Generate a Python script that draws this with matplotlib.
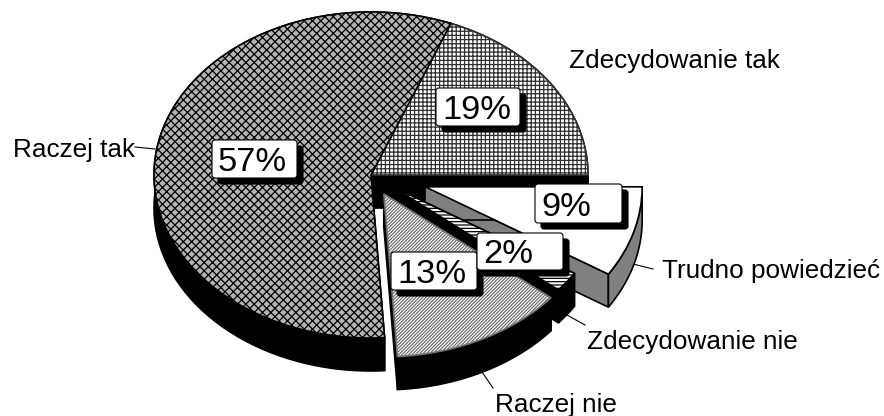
import numpy as np
import matplotlib as mpl
mpl.use("Agg")
import matplotlib.pyplot as plt
from matplotlib.patches import FancyBboxPatch, Polygon
from matplotlib.transforms import Affine2D

categories = ["Zdecydowanie tak", "Trudno powiedzieć", "Zdecydowanie nie", "Raczej nie", "Raczej tak"]
values = [19, 9, 2, 13, 57]
explode = [0, 0.26, 0.115, 0.13, 0]
hatches = ["++++", None, "-----", "//////////", "xxxx"]
face_colors = ["white", "white", "white", "white", "#b4b4b4"]
hatch_colors = ["#303030", "black", "black", "#707070", "black"]
wall_colors = ["black", "#808080", "black", "black", "black"]
layers = [1, 2, 3, 4, 1]

W, H = 884, 416
CX, CY, RX, RY, DEPTH = 371, 175, 217, 163, 33

plt.rcParams["font.family"] = ["Liberation Sans", "DejaVu Sans"]
plt.rcParams["hatch.linewidth"] = 0.9

fig = plt.figure(figsize=(W / 100, H / 100), dpi=100, facecolor="white")
ax = fig.add_axes([0, 0, 1, 1])

wedges, _ = ax.pie(values, explode=explode, startangle=68.4, counterclock=False, radius=1,
                   hatch=hatches, normalize=True,
                   wedgeprops=dict(edgecolor="black", linewidth=1.2))
ax.set_aspect("auto")
ax.set_xlim(-CX / RX, (W - CX) / RX)
ax.set_ylim((CY - H) / RY, CY / RY)
ax.axis("off")

d = DEPTH / RY
for w, fc, hc, wc, lay in zip(wedges, face_colors, hatch_colors, wall_colors, layers):
    w.set_zorder(lay * 10 + 5)
    w.set_facecolor(fc)
    w.set_edgecolor(hc)
    cx, cy = w.center
    th = np.radians(np.linspace(w.theta1, w.theta2, 80))
    rim = np.column_stack([cx + w.r * np.cos(th), cy + w.r * np.sin(th)])
    faces = [
        [(cx, cy), rim[0], rim[0] - [0, d], (cx, cy - d)],
        [(cx, cy), rim[-1], rim[-1] - [0, d], (cx, cy - d)],
        np.vstack([rim, (rim - [0, d])[::-1]]),
    ]
    for f in faces:
        ax.add_patch(Polygon(f, closed=True, facecolor=wc, edgecolor="black",
                             linewidth=1.2, zorder=lay * 10))

px = Affine2D().scale(1, -1).translate(0, H)

# percentage boxes: (left, top, right, bottom) in image pixels
boxes = {
    "Raczej tak": (212, 140, 297, 178),
    "Zdecydowanie tak": (436, 88, 520, 126),
    "Trudno powiedzieć": (535, 184, 622, 223),
    "Raczej nie": (391, 252, 477, 290),
    "Zdecydowanie nie": (477, 233, 563, 270),
}
for i, name in enumerate(["Raczej tak", "Zdecydowanie tak", "Trudno powiedzieć", "Raczej nie", "Zdecydowanie nie"]):
    l, t, r, b = boxes[name]
    z = 100 + i * 3
    rad = 3
    ax.add_patch(FancyBboxPatch((l + 6 + rad, t + 6 + rad), r - l - 2 * rad, b - t - 2 * rad,
                                boxstyle=f"round,pad={rad},rounding_size={rad}", transform=px,
                                facecolor="black", edgecolor="black", lw=0.8, zorder=z))
    ax.add_patch(FancyBboxPatch((l + rad, t + rad), r - l - 2 * rad, b - t - 2 * rad,
                                boxstyle=f"round,pad={rad},rounding_size={rad}", transform=px,
                                facecolor="white", edgecolor="black", lw=0.8, zorder=z + 1))
    ax.text(l + 6, b - 7, f"{values[categories.index(name)]}%", transform=px,
            ha="left", va="baseline", fontsize=24.8, color="black", zorder=z + 2)

# outer labels (left, baseline) and leader lines, in image pixels
labels = {
    "Zdecydowanie tak": (569, 68, None),
    "Raczej tak": (13, 157, ((135, 147), (155, 149))),
    "Trudno powiedzieć": (662, 278, ((633, 264), (653, 269))),
    "Zdecydowanie nie": (587, 349, ((567, 315), (585, 325))),
    "Raczej nie": (495, 412, ((482, 372), (493, 388))),
}
for name, (x, y, seg) in labels.items():
    ax.text(x, y, name, transform=px, ha="left", va="baseline", fontsize=18.8, color="black", zorder=90)
    if seg:
        ax.plot([seg[0][0], seg[1][0]], [seg[0][1], seg[1][1]], transform=px, color="black", lw=0.8, zorder=2)

fig.savefig("out.png", dpi=100)
